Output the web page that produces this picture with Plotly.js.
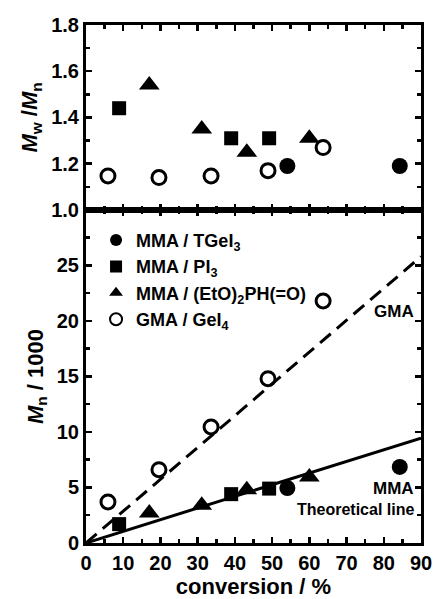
<!DOCTYPE html>
<html><head><meta charset="utf-8">
<script src="https://cdn.plot.ly/plotly-3.0.1.min.js"></script>
<style>html,body{margin:0;padding:0;background:#fff}#chart{width:434px;height:599px}</style>
</head><body><div id="chart"></div>
<script>
// conversion (%) per series
const tgeConv = [54.1, 84.3];
const tgeMn = [4.95, 6.85];
const tgePDI = [1.19, 1.19];

const pi3Conv = [8.9, 39.0, 49.2];
const pi3Mn = [1.7, 4.4, 4.9];
const pi3PDI = [1.44, 1.31, 1.31];

const phConv = [17.0, 31.1, 43.2, 60.0];
const phMn = [2.7, 3.4, 4.8, 5.95];
const phPDI = [1.54, 1.35, 1.25, 1.31];

const gmaConv = [5.9, 19.6, 33.6, 48.9, 63.7];
const gmaMn = [3.7, 6.6, 10.45, 14.8, 21.8];
const gmaPDI = [1.147, 1.14, 1.147, 1.17, 1.27];

// theoretical lines (conversion, Mn/1000)
const lineX = [0, 90];
const mmaTheo = [0, 9.45];
const gmaTheo = [0, 25.8];

const names = ['MMA / TGeI<sub>3</sub>', 'MMA / PI<sub>3</sub>', 'MMA / (EtO)<sub>2</sub>PH(=O)', 'GMA / GeI<sub>4</sub>'];

const mk = {
  tge: {symbol: 'circle', size: 16, color: '#000'},
  pi3: {symbol: 'square', size: 14, color: '#000'},
  ph: {symbol: 'triangle-up', size: 18, color: '#000'},
  gma: {symbol: 'circle-open', size: 14, color: '#000', line: {width: 3, color: '#000'}}
};

const traces = [
  {x: lineX, y: mmaTheo, mode: 'lines', line: {color: '#000', width: 3}, showlegend: false, xaxis: 'x', yaxis: 'y', hoverinfo: 'skip'},
  {x: lineX, y: gmaTheo, mode: 'lines', line: {color: '#000', width: 3, dash: '14px,8px'}, showlegend: false, xaxis: 'x', yaxis: 'y', hoverinfo: 'skip'},
  {x: tgeConv, y: tgeMn, mode: 'markers', marker: mk.tge, name: names[0], xaxis: 'x', yaxis: 'y'},
  {x: pi3Conv, y: pi3Mn, mode: 'markers', marker: mk.pi3, name: names[1], xaxis: 'x', yaxis: 'y'},
  {x: phConv, y: phMn, mode: 'markers', marker: mk.ph, name: names[2], xaxis: 'x', yaxis: 'y'},
  {x: gmaConv, y: gmaMn, mode: 'markers', marker: mk.gma, name: names[3], xaxis: 'x', yaxis: 'y'},
  {x: tgeConv, y: tgePDI, mode: 'markers', marker: mk.tge, showlegend: false, xaxis: 'x2', yaxis: 'y2'},
  {x: pi3Conv, y: pi3PDI, mode: 'markers', marker: mk.pi3, showlegend: false, xaxis: 'x2', yaxis: 'y2'},
  {x: phConv, y: phPDI, mode: 'markers', marker: mk.ph, showlegend: false, xaxis: 'x2', yaxis: 'y2'},
  {x: gmaConv, y: gmaPDI, mode: 'markers', marker: mk.gma, showlegend: false, xaxis: 'x2', yaxis: 'y2'}
];

const F = 'Arial, "Liberation Sans", sans-serif';
const tickf = {family: F, size: 20, color: '#000', weight: 'bold'};
const axBase = {
  showline: true, linewidth: 3, linecolor: '#000', mirror: 'ticks',
  ticks: 'inside', ticklen: 6, tickwidth: 2.5, tickcolor: '#000',
  showgrid: false, zeroline: false, tickfont: tickf, fixedrange: true
};
const titleFont = {family: F, size: 22, color: '#000', weight: 'bold'};

const layout = {
  width: 434, height: 599,
  margin: {l: 86, r: 13, t: 25, b: 56},
  paper_bgcolor: '#fff', plot_bgcolor: '#fff',
  font: {family: F, color: '#000'},
  showlegend: true,
  legend: {
    x: 0.03, y: 0.62, xanchor: 'left', yanchor: 'top',
    bgcolor: 'rgba(0,0,0,0)', borderwidth: 0,
    font: {family: F, size: 18, color: '#000', weight: 'bold'},
    itemsizing: 'constant', tracegroupgap: 0
  },
  xaxis: Object.assign({}, axBase, {
    anchor: 'y', domain: [0, 1], range: [0, 90], dtick: 10, tick0: 0,
    minor: {dtick: 5, ticks: 'inside', ticklen: 4, tickwidth: 2.5, tickcolor: '#000'},
    title: {text: 'conversion / %', font: titleFont, standoff: 4}
  }),
  yaxis: Object.assign({}, axBase, {
    anchor: 'x', domain: [0, 0.643], range: [0, 30], tickvals: [0, 5, 10, 15, 20, 25],
    minor: {tickvals: [2.5, 7.5, 12.5, 17.5, 22.5, 27.5], ticks: 'inside', ticklen: 4, tickwidth: 2.5, tickcolor: '#000'},
    title: {text: '<i>M</i><sub>n</sub> / 1000', font: titleFont, standoff: 8}
  }),
  xaxis2: Object.assign({}, axBase, {
    anchor: 'y2', domain: [0, 1], range: [0, 90], dtick: 10, tick0: 0, showticklabels: false,
    minor: {dtick: 5, ticks: 'inside', ticklen: 4, tickwidth: 2.5, tickcolor: '#000'}
  }),
  yaxis2: Object.assign({}, axBase, {
    anchor: 'x2', domain: [0.643, 1], range: [1.0, 1.8], dtick: 0.2, tick0: 1.0, tickformat: '.1f',
    minor: {dtick: 0.1, ticks: 'inside', ticklen: 4, tickwidth: 2.5, tickcolor: '#000'},
    title: {text: '<i>M</i><sub>w</sub> /<i>M</i><sub>n</sub>', font: titleFont, standoff: 8}
  }),
  annotations: [
    {xref: 'paper', yref: 'paper', x: 0.985, y: 0.447, xanchor: 'right', yanchor: 'middle', showarrow: false,
     text: 'GMA', font: {family: F, size: 17, color: '#000', weight: 'bold'}},
    {xref: 'paper', yref: 'paper', x: 0.985, y: 0.106, xanchor: 'right', yanchor: 'middle', showarrow: false,
     text: 'MMA', font: {family: F, size: 17, color: '#000', weight: 'bold'}},
    {xref: 'paper', yref: 'paper', x: 0.985, y: 0.064, xanchor: 'right', yanchor: 'middle', showarrow: false,
     text: 'Theoretical line', font: {family: F, size: 16, color: '#000', weight: 'bold'}}
  ]
};

Plotly.newPlot('chart', traces, layout, {staticPlot: true, displayModeBar: false});
</script></body></html>
